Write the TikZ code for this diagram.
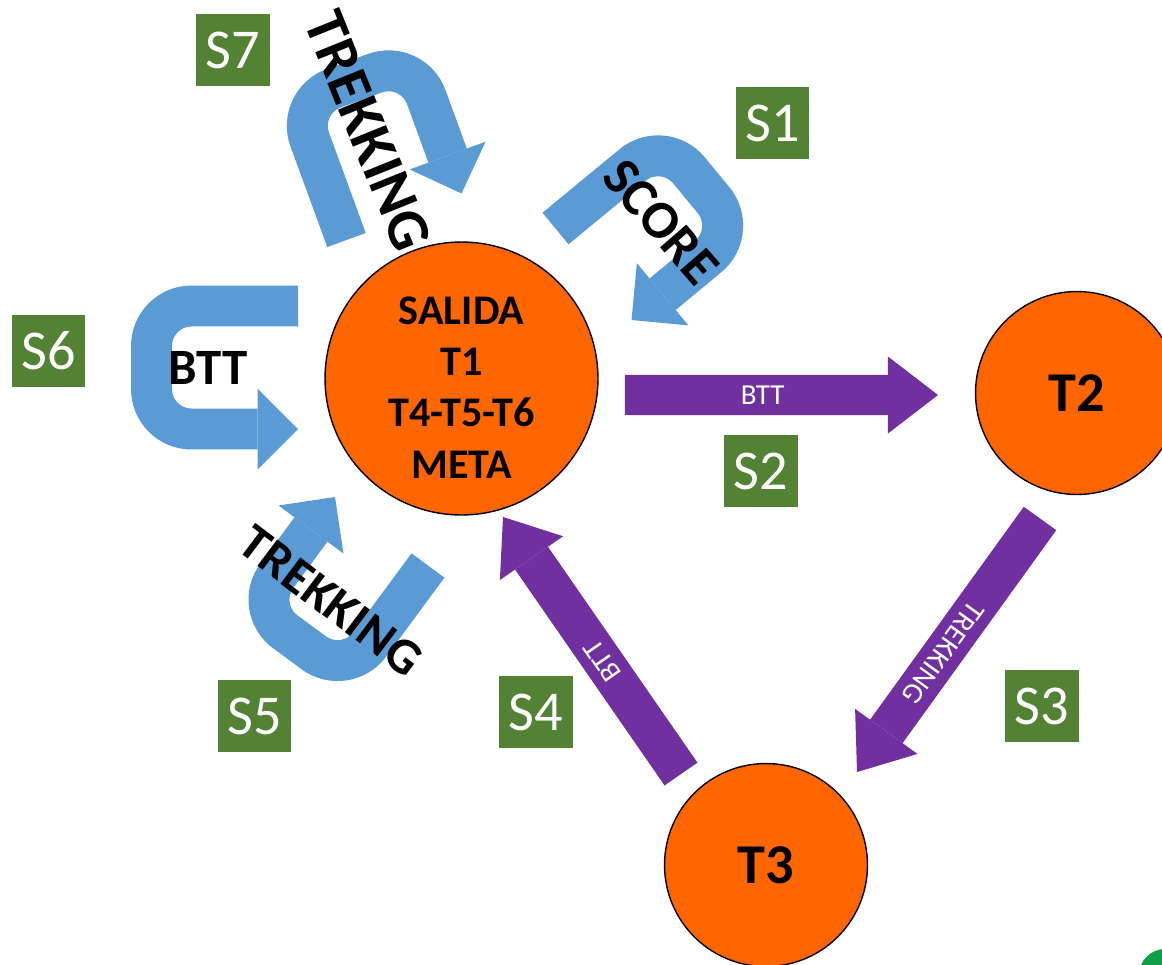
\documentclass[tikz,border=0pt]{standalone}
\usepackage{fontspec}
\setmainfont{Carlito}
\usetikzlibrary{arrows.meta}

\definecolor{stageorange}{RGB}{255,102,0}
\definecolor{turnblue}{RGB}{91,155,213}
\definecolor{legpurple}{RGB}{112,48,160}
\definecolor{sectorgreen}{RGB}{84,130,53}
\definecolor{badgegreen}{RGB}{18,158,70}

\begin{document}
\begin{tikzpicture}[x = 0.02cm, y = -0.02cm,
	stage/.style = {circle, draw, line width = 0.8pt, fill = stageorange, inner sep = 0pt, outer sep = 0pt, align = center},
	sector/.style = {fill = sectorgreen, text = white, minimum width = 42pt, minimum height = 41pt, inner sep = 0pt, font = \fontsize{32}{38}\selectfont},
	leg/.style = {legpurple, line width = 22.8pt, -{Triangle[width = 43.8pt, length = 28.5pt, line width = 0pt]}},
	legtext/.style = {text = white, sloped, allow upside down, font = \fontsize{16.5}{20}\selectfont},
	uturn/.style = {turnblue, line width = 23.3pt, rounded corners = 22.8pt, -{Triangle[width = 46pt, length = 23pt, line width = 0pt]}},
	turntext/.style = {font = \bfseries\fontsize{29}{35}\selectfont}]

	\useasboundingbox (0, 0) rectangle (1162, 964);

	% Stages

	\node [stage, minimum size = 5.46cm] (main) at (461.5, 378.5) {};
	\node [align = center, font = \bfseries\fontsize{24}{29.2}\selectfont] (mainlbl) at ([yshift = -5pt] main.center) {SALIDA\\T1\\T4-T5-T6\\META};
	\node [stage, minimum size = 4.06cm, font = \bfseries\fontsize{32}{38}\selectfont] (t2) at (1077, 393) {T2};
	\node [stage, minimum size = 4.06cm, font = \bfseries\fontsize{32}{38}\selectfont] (t3) at (766, 865) {T3};

	% Legs between stages

	\draw [leg] ([shift = {(27, 16.5)}] main.east) -- node [legtext, pos = 0.44] (btt2) {BTT} ([shift = {(-37.5, 2)}] t2.west);
	\draw [leg] ([shift = {(-37, 24)}] t2.south) -- node [legtext, pos = 0.53] (trek3) {TREKKING} ([shift = {(91, 8.5)}] t3.north);
	\draw [leg] ([shift = {(-85, 10.5)}] t3.north) -- node [legtext, pos = 0.44] (btt4) {BTT} ([shift = {(41.5, 2)}] main.south);

	% Loops back to the start

	\draw [uturn] (346.5, 240) -- (296, 102) -- (412.5, 59.5) -- (461.5, 193.5);
	\draw [uturn] (555.5, 228.5) -- (663.5, 139.5) -- (739, 231) -- (631.5, 320);
	\draw [uturn] (428, 565.5) -- (346, 676.5) -- (253, 608) -- (335, 497);
	\draw [uturn] (298, 306) -- (151.5, 306) -- (151.5, 429) -- (298, 429);

	\node [turntext, rotate = -68, font = \bfseries\fontsize{34}{40}\selectfont] (trek7) at (368, 131) {TREKKING};
	\node [turntext, rotate = -49, font = \bfseries\fontsize{30.5}{36}\selectfont] (score1) at (661, 222) {SCORE};
	\node [turntext] (btt6) at (208, 368) {BTT};
	\node [turntext, rotate = -37] (trek5) at (331, 601) {TREKKING};

	% Sector tags

	\node [sector] (s1) at (772.5, 123) {S1};
	\node [sector] (s2) at (761, 471) {S2};
	\node [sector] (s3) at (1042, 706) {S3};
	\node [sector] (s4) at (536, 712) {S4};
	\node [sector] (s5) at (254.5, 716) {S5};
	\node [sector] (s6) at (48.5, 351) {S6};
	\node [sector] (s7) at (233, 50) {S7};

	% Corner badge

	\fill [badgegreen] (1165, 975) circle (0.52cm);

\end{tikzpicture}
\end{document}
